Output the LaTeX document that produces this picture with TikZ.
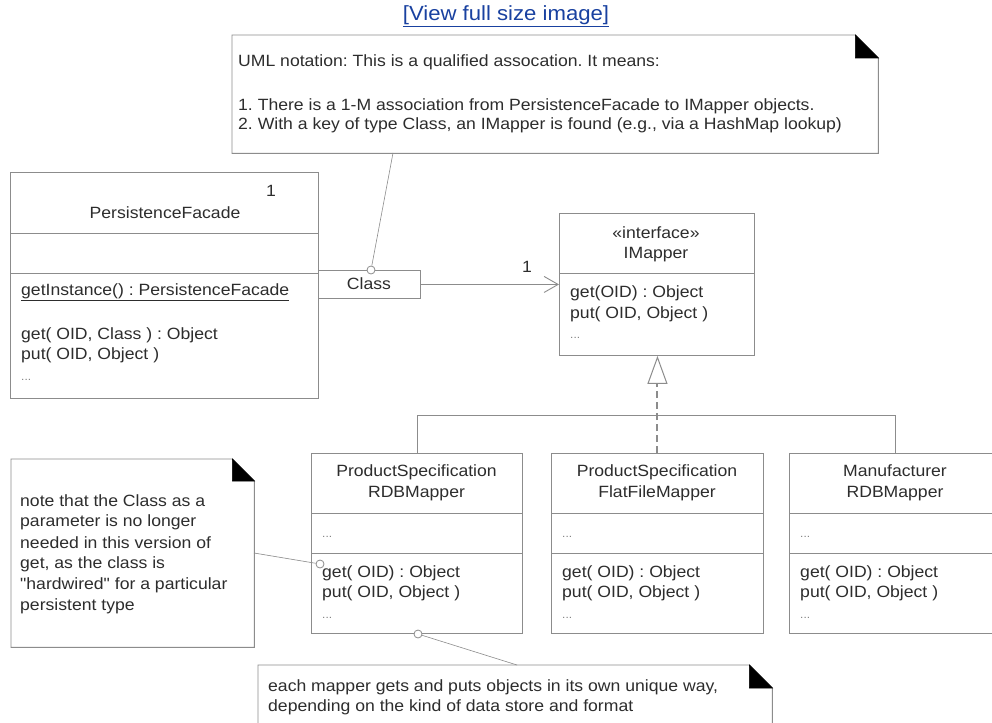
\documentclass[tikz,border=0pt]{standalone}
\usepackage{fontspec}
\setmainfont[FakeStretch=1.08]{Liberation Sans}
\newfontfamily\plainq[FakeStretch=1.08]{Liberation Sans}
\usetikzlibrary{arrows.meta}
\definecolor{linec}{RGB}{140,140,140}
\definecolor{txtc}{RGB}{45,45,45}
\definecolor{linkc}{RGB}{25,65,160}
\frenchspacing
\begin{document}
\begin{tikzpicture}[x=1pt,y=-1pt,
  ln/.style={draw=linec,line width=0.9pt},
  box/.style={ln,rectangle,inner sep=0pt,fill=white,anchor=north west},
  txt/.style={inner sep=0pt,text=txtc,font=\fontsize{16.3}{20.5}\selectfont},
  lt/.style={txt,anchor=west},
  ct/.style={txt,align=center,anchor=center},
  dots/.style={inner sep=0pt,anchor=west,text=gray,font=\fontsize{11}{11}\selectfont},
  circ/.style={circle,draw=linec,fill=white,line width=0.8pt,minimum size=8pt,inner sep=0pt},
  notebox/.style={inner sep=0pt,draw=none,rectangle,anchor=north west},
  notefold/.style={fill=black,draw=black,line width=0.6pt}]
\useasboundingbox (0,0) rectangle (992,722);
\fill[white] (0,0) rectangle (992,722);

% link
\node[inner sep=0pt,text=linkc,font=\fontsize{20.5}{24}\selectfont] (link) at (506,16) {\underline{[View full size image]}};

% ---------- top note ----------
\node[notebox,minimum width=646pt,minimum height=118pt] (tnote) at (232,35) {};
\draw[ln,fill=white] (tnote.north west) -- ([xshift=-23pt]tnote.north east) -- ([yshift=-23pt]tnote.north east) -- (tnote.south east) -- (tnote.south west) -- cycle;
\fill[notefold] ([xshift=-23pt]tnote.north east) -- ([xshift=-23pt,yshift=-23pt]tnote.north east) -- ([yshift=-23pt]tnote.north east) -- cycle;
\node[lt] (tn1) at (238,62) {UML notation: This is a qualified assocation. It means:};
\node[lt] (tn2) at (238,106) {1. There is a 1-M association from PersistenceFacade to IMapper objects.};
\node[lt] (tn3) at (238,125) {2. With a key of type Class, an IMapper is found (e.g., via a HashMap lookup)};

% ---------- PersistenceFacade ----------
\node[box,minimum width=308pt,minimum height=226pt] (pf) at (10,172) {};
\draw[ln] (pf.west |- 0,233) -- (pf.east |- 0,233);
\draw[ln] (pf.west |- 0,273) -- (pf.east |- 0,273);
\node[txt] (pfm) at (271,191) {1};
\node[txt] (pfn) at (165,213) {PersistenceFacade};
\node[lt] (pf1) at (21,292) {\underline{getInstance() : PersistenceFacade}};
\node[lt] (pf2) at (21,335) {get( OID, Class ) : Object};
\node[lt] (pf3) at (21,355) {put( OID, Object )};
\node[dots] (pf4) at (21,380) {...};

% qualifier
\node[box,minimum width=102pt,minimum height=28pt] (cls) at (318,270) {};
\node[txt] (clst) at (369,284) {Class};
\node[circ] (c1) at (371,270) {};

% ---------- IMapper ----------
\node[box,minimum width=195pt,minimum height=142pt] (imap) at (559,213) {};
\draw[ln] (imap.west |- 0,273) -- (imap.east |- 0,273);
\node[ct] (im1) at (656,233) {«interface»};
\node[ct] (im2) at (656,255) {IMapper};
\node[lt] (im3) at (570,293) {get(OID) : Object};
\node[lt] (im4) at (570,314) {put( OID, Object )};
\node[dots] (im5) at (570,338) {...};

% association
\draw[ln,-{Straight Barb[length=14pt,width=16pt,line width=0.9pt]}] (cls.east) -- (imap.west |- cls.east);
\node[txt] (one) at (527,267) {1};

% ---------- mappers ----------
\node[box,minimum width=211pt,minimum height=180pt] (rdb) at (311,453) {};
\draw[ln] (rdb.west |- 0,513) -- (rdb.east |- 0,513);
\draw[ln] (rdb.west |- 0,553) -- (rdb.east |- 0,553);
\node[ct] (r1) at (416.5,483) {ProductSpecification\\RDBMapper};
\node[dots] (r2) at (322,537) {...};
\node[lt] (r3) at (322,573) {get( OID) : Object};
\node[lt] (r4) at (322,593) {put( OID, Object )};
\node[dots] (r5) at (322,618) {...};

\node[box,minimum width=212pt,minimum height=180pt] (ff) at (551,453) {};
\draw[ln] (ff.west |- 0,513) -- (ff.east |- 0,513);
\draw[ln] (ff.west |- 0,553) -- (ff.east |- 0,553);
\node[ct] (f1) at (657,483) {ProductSpecification\\FlatFileMapper};
\node[dots] (f2) at (562,537) {...};
\node[lt] (f3) at (562,573) {get( OID) : Object};
\node[lt] (f4) at (562,593) {put( OID, Object )};
\node[dots] (f5) at (562,618) {...};

\node[box,minimum width=212pt,minimum height=180pt] (man) at (789,453) {};
\draw[ln] (man.west |- 0,513) -- (man.east |- 0,513);
\draw[ln] (man.west |- 0,553) -- (man.east |- 0,553);
\node[ct] (m1) at (895,483) {Manufacturer\\RDBMapper};
\node[dots] (m2) at (800,537) {...};
\node[lt] (m3) at (800,573) {get( OID) : Object};
\node[lt] (m4) at (800,593) {put( OID, Object )};
\node[dots] (m5) at (800,618) {...};

% realization
\draw[ln] (rdb.north) -- ++(0,-38) -| (man.north);
\draw[draw=linec,line width=2pt,dash pattern=on 7pt off 4pt,-{Triangle[open,length=28pt,width=20pt,line width=1pt,fill=white]}] (ff.north) -- (ff.north |- imap.south);

% ---------- left note ----------
\node[notebox,minimum width=243pt,minimum height=188pt] (lnote) at (11,459) {};
\draw[ln,fill=white] (lnote.north west) -- ([xshift=-22pt]lnote.north east) -- ([yshift=-22pt]lnote.north east) -- (lnote.south east) -- (lnote.south west) -- cycle;
\fill[notefold] ([xshift=-22pt]lnote.north east) -- ([xshift=-22pt,yshift=-22pt]lnote.north east) -- ([yshift=-22pt]lnote.north east) -- cycle;
\node[lt] (ln1) at (20,501) {note that the Class as a};
\node[lt] (ln2) at (20,522) {parameter is no longer};
\node[lt] (ln3) at (20,543) {needed in this version of};
\node[lt] (ln4) at (20,564) {get, as the class is};
\node[lt] (ln5) at (20,585) {{\plainq"}hardwired{\plainq"} for a particular};
\node[lt] (ln6) at (20,606) {persistent type};

% ---------- bottom note ----------
\node[notebox,minimum width=514pt,minimum height=110pt] (bnote) at (258,665) {};
\draw[ln,fill=white] (bnote.north west) -- ([xshift=-23pt]bnote.north east) -- ([yshift=-23pt]bnote.north east) -- (bnote.south east) -- (bnote.south west) -- cycle;
\fill[notefold] ([xshift=-23pt]bnote.north east) -- ([xshift=-23pt,yshift=-23pt]bnote.north east) -- ([yshift=-23pt]bnote.north east) -- cycle;
\node[lt] (bn1) at (268,687) {each mapper gets and puts objects in its own unique way,};
\node[lt] (bn2) at (268,707) {depending on the kind of data store and format};

% ---------- note anchors ----------
\node[circ] (c2) at (320,564) {};
\node[circ] (c3) at (418,634) {};
\coordinate (tnA) at (393,153);
\coordinate (lnA) at (254,553);
\coordinate (bnA) at (517,665);
\draw[ln,line width=0.6pt] (tnA) -- (c1);
\draw[ln,line width=0.6pt] (lnA) -- (c2);
\draw[ln,line width=0.6pt] (c3) -- (bnA);
\end{tikzpicture}
\end{document}
